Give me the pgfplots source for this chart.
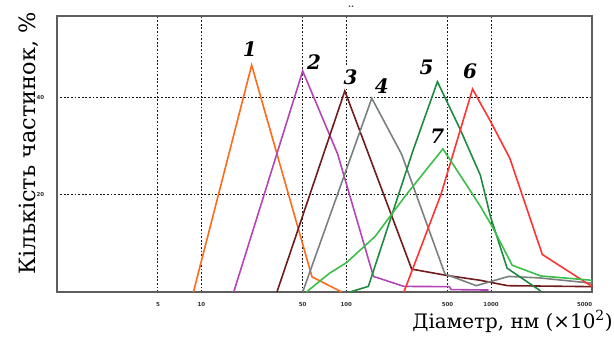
\documentclass[border=0pt]{standalone}
\usepackage{fontspec}
\setmainfont{DejaVu Serif}
\newfontfamily\tickfont{DejaVu Sans}
\usepackage{pgfplots}
\pgfplotsset{compat=1.18}
\definecolor{c1}{HTML}{FF6A1A}
\definecolor{c2}{HTML}{B445B4}
\definecolor{c3}{HTML}{701C1C}
\definecolor{c4}{HTML}{7A8080}
\definecolor{c5}{HTML}{1F8A40}
\definecolor{c6}{HTML}{FF3333}
\definecolor{c7}{HTML}{3DBE4A}
\definecolor{axgray}{HTML}{5E5E5E}
\newcommand{\numf}{\fontsize{20}{20}\selectfont\bfseries\itshape}
\begin{document}
\begin{tikzpicture}
\begin{axis}[
  scale only axis, width=535.6bp, height=276bp,
  xmode=log, log basis x=10,
  xmin=1, xmax=5000, ymin=0, ymax=56.7,
  clip=false,
  xtick={5,10,50,100,500,1000,5000},
  xticklabels={5,10,50,100,500,1000,\llap{5000}},
  ytick={20,40}, yticklabels={20,40},
  xminorticks=false, yminorticks=false,
  major tick length=0pt,
  tick style={draw=none},
  xmajorgrids, ymajorgrids,
  grid style={black!90, line width=1bp, dash pattern=on 1.8bp off 1.8bp},
  axis line style={draw=axgray, line width=2bp},
  tick label style={font=\tickfont\fontsize{5.5}{5.5}\selectfont\bfseries, text=black!80},
  xticklabel style={yshift=-7bp},
  yticklabel style={xshift=-9bp},
  every axis plot/.append style={line width=1.6bp, mark=none},
]
\addplot[c1] coordinates {(8.8,0) (22.2,46.6) (58,3.1) (93,0)};
\addplot[c2] coordinates {(16.7,0) (50,45.4) (87,28.4) (154,3.2) (250,1.15) (514,1.1) (530,0.5) (960,0.4)};
\addplot[c3] coordinates {(33.2,0) (97.7,41.3) (283,4.7) (495,3.4) (843,2.4) (1300,1.3) (5000,1.1)};
\addplot[c4] coordinates {(50,0) (150,39.8) (241,28.3) (480,3.7) (790,1.3) (1320,3.2) (2150,2.9) (5000,1.8)};
\addplot[c5] coordinates {(106,0) (142,1.15) (290,29.2) (426,43.2) (612,33.4) (843,24) (990,15.5) (1290,4.9) (2200,0.2)};
\addplot[c6] coordinates {(250,0) (450,20) (745,41.7) (843,38.8) (989,35.1) (1346,27.5) (2258,7.7) (5000,1.1)};
\addplot[c7] coordinates {(53,0) (77,3.9) (100,6) (158,11.4) (255,19.7) (465,29.4) (663,22.4) (843,17.6) (1016,13.5) (1399,5.5) (2200,3.3) (5000,2.4)};
\node[font=\numf, inner sep=0pt] at (axis cs:21.6,49.8) {1};
\node[font=\numf, inner sep=0pt] at (axis cs:59.8,47.3) {2};
\node[font=\numf, fill=white, inner sep=2.5bp] at (axis cs:107,44.2) {3};
\node[font=\numf, fill=white, inner sep=3bp] at (axis cs:176,42.2) {4};
\node[font=\numf, inner sep=0pt] at (axis cs:359,46.2) {5};
\node[font=\numf, inner sep=0pt] at (axis cs:715,45.3) {6};
\node[font=\numf, inner sep=0pt] at (axis cs:425,32) {7};
\node[font=\tickfont\fontsize{8}{8}\selectfont\bfseries, text=black!70, inner sep=0pt] at (axis cs:108,58.5) {..};
\coordinate (SW) at (rel axis cs:0,0);
\coordinate (NE) at (rel axis cs:1,1);
\coordinate (SE) at (rel axis cs:1,0);
\end{axis}
\node[rotate=90, anchor=base, font=\fontsize{22.5}{22.5}\selectfont, inner sep=0pt] at ([xshift=-21.7bp, yshift=148.5bp]SW) {Кількість частинок, \%};
\node[anchor=base east, font=\fontsize{20}{20}\selectfont, inner sep=0pt] at ([xshift=20.5bp, yshift=-36bp]SE) {Діаметр, нм (×10\textsuperscript{2})};
\pgfresetboundingbox
\path[use as bounding box] ([xshift=-56.7bp, yshift=-49bp]SW) rectangle ([xshift=21.7bp, yshift=16bp]NE);
\end{tikzpicture}
\end{document}
